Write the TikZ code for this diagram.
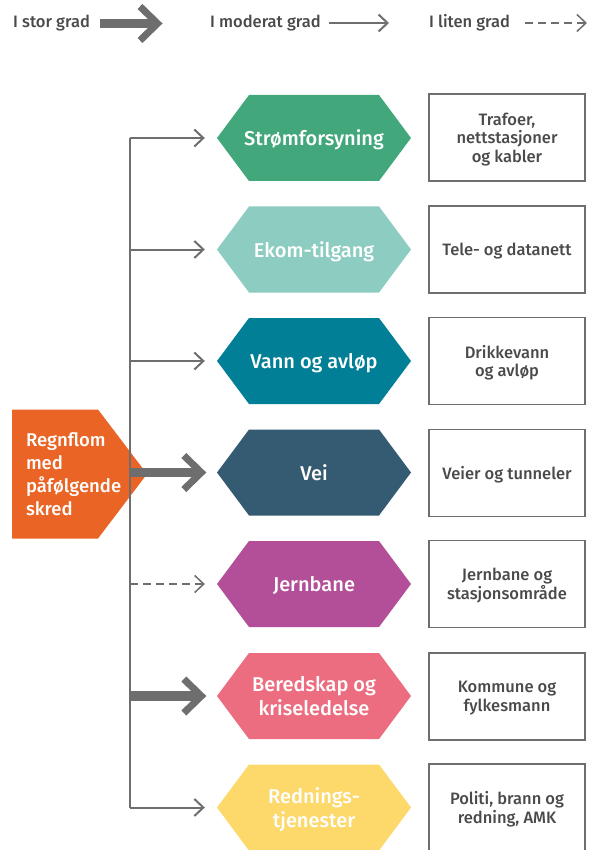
\documentclass[tikz,border=0pt]{standalone}
\usepackage{fontspec}
\setmainfont{Fira Sans Medium}
\usetikzlibrary{arrows.meta}
\definecolor{cgreen}{HTML}{42A87B}
\definecolor{cteal}{HTML}{8DCCC1}
\definecolor{cpetrol}{HTML}{007F97}
\definecolor{cslate}{HTML}{355B73}
\definecolor{cmagenta}{HTML}{B24F98}
\definecolor{cpink}{HTML}{EC6D7F}
\definecolor{cyellow}{HTML}{FDD86A}
\definecolor{corange}{HTML}{EA6525}
\definecolor{carrow}{HTML}{6E6E6E}
\definecolor{ctext}{HTML}{4A4A4A}
\begin{document}
\begin{tikzpicture}[x=1pt,y=-1pt,
  hexnode/.style={minimum width=194pt, minimum height=86pt, inner sep=0pt, text depth=0pt,
    text=white, font=\fontsize{20}{24}\selectfont, align=center,
    path picture={\fill[#1] (path picture bounding box.west)
      -- ([xshift=32pt]path picture bounding box.north west)
      -- ([xshift=-32pt]path picture bounding box.north east)
      -- (path picture bounding box.east)
      -- ([xshift=-32pt]path picture bounding box.south east)
      -- ([xshift=32pt]path picture bounding box.south west) -- cycle;}},
  srcnode/.style={minimum height=129pt, text width=107pt, inner xsep=14pt, inner ysep=0pt,
    text=white, font=\fontsize{18.5}{23}\selectfont, align=left,
    path picture={\fill[corange] (path picture bounding box.north west)
      -- ([xshift=-49pt]path picture bounding box.north east)
      -- (path picture bounding box.east)
      -- ([xshift=-49pt]path picture bounding box.south east)
      -- (path picture bounding box.south west) -- cycle;}},
  boxnode/.style={draw=carrow, line width=1.5pt, minimum width=156pt, minimum height=87pt,
    inner sep=0pt, text depth=0pt, text=ctext, font=\fontsize{16.5}{18.5}\selectfont, align=center},
  legtext/.style={anchor=base west, inner sep=0pt, text=ctext, font=\fontsize{16.5}{18}\selectfont},
  trunkline/.style={draw=carrow, line width=2pt},
  modarrow/.style={draw=carrow, line width=2pt, -{Straight Barb[length=9pt,width=17pt]}},
  dasharrow/.style={draw=carrow, line width=1.5pt, dash pattern=on 8pt off 5pt, -{Straight Barb[length=9pt,width=17pt]}},
  thickshaft/.style={draw=carrow, line width=9.5pt},
  chevron/.style={draw=carrow, line width=7pt, miter limit=10}
]
\useasboundingbox (0,0) rectangle (592,850);
\fill[white] (0,0) rectangle (592,850);

% legend
\node[legtext] (l1) at (13,28) {I stor grad};
\node[legtext] (l2) at (210,28) {I moderat grad};
\node[legtext] (l3) at (429,28) {I liten grad};
\coordinate (l1s) at (100,23.5);
\coordinate (l1e) at (154,23.5);
\draw[thickshaft] (l1s) -- (l1e);
\draw[chevron] (140,6.5) -- (157.5,23.5) -- (140,40.5);
\coordinate (l2s) at (329,23);
\coordinate (l2e) at (389,23);
\draw[modarrow] (l2s) -- (l2e);
\coordinate (l3s) at (525,23);
\coordinate (l3e) at (587,23);
\draw[dasharrow] (l3s) -- (l3e);

% source
\node[srcnode] (src) at (79.5,474) {Regnflom\\med\\påfølgende\\skred};

% hexagons
\node[hexnode=cgreen]   (h1) at (314,138)   {Strømforsyning};
\node[hexnode=cteal]    (h2) at (314,249.5) {Ekom-tilgang};
\node[hexnode=cpetrol]  (h3) at (314,361)   {Vann og avløp};
\node[hexnode=cslate]   (h4) at (314,472.5) {Vei};
\node[hexnode=cmagenta] (h5) at (314,584)   {Jernbane};
\node[hexnode=cpink]    (h6) at (314,696)   {Beredskap og\\kriseledelse};
\node[hexnode=cyellow]  (h7) at (314,807.5) {Rednings-\\tjenester};

% boxes
\node[boxnode] (b1) at (507,137.5) {Trafoer,\\nettstasjoner\\og kabler};
\node[boxnode] (b2) at (507,249.5) {Tele- og datanett};
\node[boxnode] (b3) at (507,361)   {Drikkevann\\og avløp};
\node[boxnode] (b4) at (507,473)   {Veier og tunneler};
\node[boxnode] (b5) at (507,584)   {Jernbane og\\stasjonsområde};
\node[boxnode] (b6) at (507,696.5) {Kommune og\\fylkesmann};
\node[boxnode] (b7) at (507,807.5) {Politi, brann og\\redning, AMK};

% connectors
\coordinate (trunk) at (130,0);
\draw[trunkline] (trunk |- h1.west) -- (trunk |- h7.west);
\draw[modarrow] (trunk |- h1.west) -- ([xshift=-12pt]h1.west);
\draw[modarrow] (trunk |- h2.west) -- ([xshift=-12pt]h2.west);
\draw[modarrow] (trunk |- h3.west) -- ([xshift=-12pt]h3.west);
\draw[dasharrow] (trunk |- h5.west) -- ([xshift=-12pt]h5.west);
\draw[modarrow] (trunk |- h7.west) -- ([xshift=-12pt]h7.west);
\draw[thickshaft] (trunk |- h4.west) -- ([xshift=-19pt]h4.west);
\draw[chevron] ([xshift=-33pt,yshift=17pt]h4.west) -- ([xshift=-15.5pt]h4.west) -- ([xshift=-33pt,yshift=-17pt]h4.west);
\draw[thickshaft] (trunk |- h6.west) -- ([xshift=-19pt]h6.west);
\draw[chevron] ([xshift=-33pt,yshift=17pt]h6.west) -- ([xshift=-15.5pt]h6.west) -- ([xshift=-33pt,yshift=-17pt]h6.west);
\end{tikzpicture}
\end{document}
